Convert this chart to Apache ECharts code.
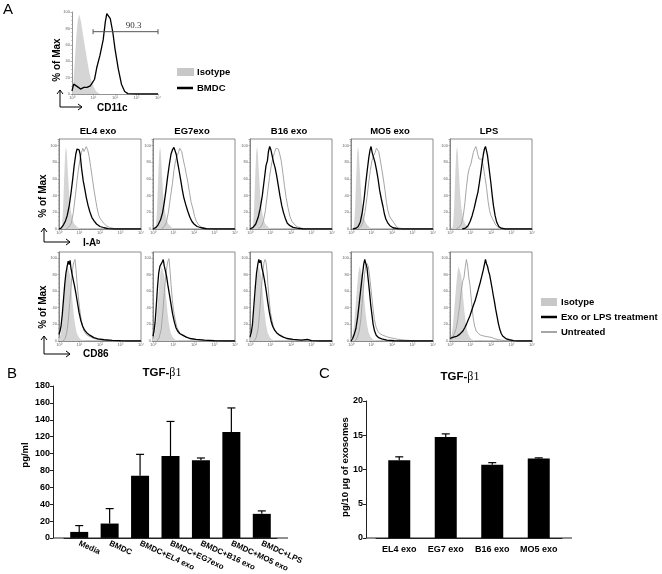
<!DOCTYPE html>
<html><head><meta charset="utf-8">
<script src="https://cdn.jsdelivr.net/npm/echarts@6/dist/echarts.min.js"></script>
<style>html,body{margin:0;padding:0;background:#fff}#c{width:662px;height:574px}</style>
</head><body><div id="c"></div><script>
// ---------- DATA (x in log10 decades, y in % of max) ----------
const cd11cIso = [[0,0],[0.05,8],[0.12,35],[0.2,70],[0.27,90],[0.34,97],[0.42,88],[0.5,74],[0.6,58],[0.7,42],[0.8,27],[0.9,16],[1.0,9],[1.1,4],[1.2,1.5],[1.3,0]];
const cd11cBmdc = [[0,4],[0.08,12],[0.15,13],[0.25,9],[0.4,6],[0.55,8],[0.7,8],[0.85,10],[0.95,14],[1.05,18],[1.15,32],[1.3,47],[1.45,66],[1.55,88],[1.62,98],[1.7,100],[1.78,92],[1.9,75],[2.0,55],[2.15,31],[2.3,12],[2.45,3],[2.6,0.5],[3,0],[4,0]];
const gateRange = [0.98, 4.0];
const gateLevel = 76;
const gateLabel = '90.3';

const iaIso = [[0.1,0],[0.15,5],[0.2,25],[0.25,60],[0.3,90],[0.34,99],[0.38,92],[0.44,65],[0.5,40],[0.56,25],[0.65,12],[0.75,6],[0.9,2],[1.05,0]];
const iaEL4 = [[0,0],[0.1,1],[0.22,5],[0.32,10],[0.4,16],[0.5,28],[0.58,42],[0.66,58],[0.74,76],[0.82,90],[0.88,96],[0.93,98],[0.98,95],[1.03,90],[1.1,73],[1.18,58],[1.25,49],[1.33,38],[1.42,28],[1.5,21],[1.6,14],[1.7,10],[1.83,6],[2.0,3],[2.2,1.5],[2.4,0.5],[2.7,0],[4,0]];
const iaUntrEL4 = [[0.35,0],[0.47,2],[0.6,7],[0.7,20],[0.8,40],[0.88,58],[0.95,72],[1.03,84],[1.1,92],[1.16,97],[1.22,93],[1.28,96],[1.33,99],[1.4,95],[1.47,87],[1.55,74],[1.62,62],[1.7,48],[1.78,36],[1.85,26],[1.93,17],[2.0,13],[2.08,10],[2.18,7],[2.3,4],[2.45,2],[2.7,0.5],[3,0],[4,0]];
const iaEG7 = [[0,0],[0.15,2],[0.25,5],[0.37,11],[0.47,20],[0.55,32],[0.63,46],[0.71,62],[0.8,78],[0.88,90],[0.95,95],[1.02,98],[1.08,99],[1.13,90],[1.2,80],[1.28,69],[1.35,59],[1.43,47],[1.5,38],[1.6,29],[1.7,21],[1.8,14],[1.9,9],[2.0,6],[2.15,3],[2.35,1.5],[2.6,0.3],[3,0],[4,0]];
const iaUntrEG7 = [[0.4,0],[0.55,3],[0.65,8],[0.75,20],[0.85,38],[0.95,55],[1.02,70],[1.1,82],[1.18,88],[1.25,92],[1.3,97],[1.35,99],[1.4,93],[1.47,84],[1.55,75],[1.63,65],[1.7,56],[1.78,44],[1.86,32],[1.95,24],[2.03,15],[2.12,9],[2.22,5],[2.35,2.5],[2.5,1],[2.8,0],[4,0]];
const iaB16 = [[0,0],[0.15,2],[0.28,6],[0.4,14],[0.5,25],[0.6,40],[0.7,60],[0.78,76],[0.85,82],[0.9,93],[0.96,99],[1.02,95],[1.08,88],[1.15,80],[1.22,74],[1.3,64],[1.38,52],[1.46,40],[1.55,28],[1.63,20],[1.72,13],[1.82,7],[1.95,4],[2.1,2],[2.3,1],[2.6,0],[4,0]];
const iaUntrB16 = [[0.4,0],[0.55,3],[0.65,9],[0.75,22],[0.85,42],[0.95,62],[1.05,78],[1.12,86],[1.2,92],[1.27,97],[1.33,99],[1.38,96],[1.45,90],[1.52,82],[1.6,68],[1.68,52],[1.76,38],[1.85,26],[1.95,15],[2.05,9],[2.15,6],[2.28,3],[2.45,1.5],[2.7,0],[4,0]];
const iaMO5 = [[0.1,0],[0.25,1],[0.35,3],[0.45,8],[0.55,20],[0.64,36],[0.72,55],[0.8,72],[0.87,86],[0.93,95],[0.98,99],[1.03,92],[1.1,86],[1.17,80],[1.25,70],[1.32,60],[1.4,46],[1.48,36],[1.56,27],[1.63,18],[1.7,12],[1.8,7],[1.9,4],[2.05,1.5],[2.3,0.3],[2.6,0],[4,0]];
const iaUntrMO5 = [[0.35,0],[0.48,3],[0.58,8],[0.68,20],[0.78,38],[0.86,55],[0.94,70],[1.02,82],[1.1,88],[1.18,92],[1.24,97],[1.29,99],[1.35,93],[1.42,84],[1.5,72],[1.58,60],[1.66,46],[1.73,32],[1.8,22],[1.87,16],[1.93,13],[2.0,11],[2.08,8],[2.18,4],[2.3,1.5],[2.5,0.5],[2.8,0],[4,0]];
const iaLPS = [[0.6,0],[0.75,1],[0.88,4],[0.98,9],[1.08,16],[1.18,25],[1.28,36],[1.36,44],[1.43,55],[1.5,67],[1.57,80],[1.63,90],[1.68,96],[1.73,99],[1.78,94],[1.83,88],[1.88,78],[1.94,66],[2.0,54],[2.06,40],[2.12,28],[2.2,16],[2.28,8],[2.38,3],[2.5,1],[2.7,0],[4,0]];
const iaUntrLPS = [[0.3,0],[0.45,2],[0.55,6],[0.65,16],[0.73,32],[0.8,50],[0.88,66],[0.95,74],[1.02,78],[1.08,85],[1.14,92],[1.2,96],[1.26,99],[1.31,95],[1.36,89],[1.42,84],[1.48,86],[1.55,84],[1.62,76],[1.7,63],[1.78,50],[1.86,33],[1.93,22],[2.0,16],[2.06,13],[2.12,10],[2.2,6],[2.3,3],[2.45,1],[2.7,0],[4,0]];

const cdIso = [[0,2],[0.08,8],[0.15,20],[0.22,42],[0.3,66],[0.36,82],[0.42,90],[0.48,88],[0.55,78],[0.62,58],[0.7,36],[0.78,20],[0.86,10],[0.95,5],[1.05,2],[1.2,0.5],[1.35,0]];
const cdEL4 = [[0,8],[0.05,12],[0.1,18],[0.16,32],[0.22,50],[0.28,68],[0.34,82],[0.4,90],[0.45,96],[0.5,92],[0.54,97],[0.58,88],[0.64,80],[0.7,73],[0.76,66],[0.82,58],[0.9,46],[0.98,34],[1.06,25],[1.15,18],[1.25,13],[1.35,10],[1.5,7],[1.7,4],[1.9,2.5],[2.2,1.5],[2.6,0.8],[3.0,0.3],[3.4,0],[4,0]];
const cdUntrEL4 = [[0.2,0],[0.3,3],[0.38,10],[0.45,24],[0.52,45],[0.58,62],[0.63,78],[0.68,90],[0.73,95],[0.78,98],[0.83,86],[0.88,70],[0.94,54],[1.0,40],[1.07,28],[1.14,18],[1.22,12],[1.32,8],[1.45,6],[1.6,4],[1.8,2.5],[2.1,1.5],[2.5,0.5],[3,0],[4,0]];
const cdEG7 = [[0,6],[0.05,12],[0.1,22],[0.16,42],[0.22,65],[0.28,82],[0.34,90],[0.4,92],[0.45,95],[0.5,98],[0.55,90],[0.6,85],[0.66,78],[0.72,68],[0.8,56],[0.88,44],[0.96,32],[1.04,23],[1.12,16],[1.2,12],[1.3,9],[1.45,7],[1.6,5],[1.8,3],[2.1,2],[2.5,1],[3,0.3],[3.5,0],[4,0]];
const cdUntrEG7 = [[0.2,0],[0.3,4],[0.4,14],[0.48,35],[0.55,58],[0.62,78],[0.68,90],[0.73,96],[0.78,99],[0.83,85],[0.88,68],[0.94,50],[1.0,37],[1.08,26],[1.16,17],[1.25,12],[1.35,8],[1.5,6],[1.7,4],[2.0,2],[2.4,1],[3,0],[4,0]];
const cdB16 = [[0,5],[0.06,10],[0.12,20],[0.18,40],[0.25,62],[0.32,82],[0.38,92],[0.43,98],[0.48,94],[0.53,97],[0.58,88],[0.64,82],[0.7,74],[0.78,62],[0.86,48],[0.94,35],[1.02,25],[1.1,18],[1.2,13],[1.3,10],[1.45,7],[1.6,5],[1.8,3],[2.1,2],[2.5,1],[2.8,2],[3.0,0.5],[3.4,0],[4,0]];
const cdUntrB16 = [[0.2,0],[0.3,4],[0.4,15],[0.48,38],[0.55,62],[0.62,82],[0.68,94],[0.73,98],[0.78,95],[0.83,84],[0.88,66],[0.94,48],[1.0,34],[1.08,24],[1.16,16],[1.25,11],[1.35,8],[1.5,6],[1.7,4],[2.0,2],[2.4,1],[3,0],[4,0]];
const cdMO5 = [[0,0],[0.08,3],[0.16,8],[0.24,15],[0.32,28],[0.4,45],[0.48,63],[0.56,80],[0.62,92],[0.67,98],[0.72,96],[0.78,88],[0.84,74],[0.9,60],[0.96,44],[1.02,32],[1.08,20],[1.15,12],[1.23,7],[1.35,4],[1.5,2.5],[1.75,1],[2.1,0.3],[2.5,0],[4,0]];
const cdUntrMO5 = [[0.2,0],[0.3,4],[0.4,12],[0.48,26],[0.54,45],[0.6,62],[0.66,80],[0.72,90],[0.78,93],[0.84,90],[0.9,80],[0.96,66],[1.02,52],[1.08,38],[1.14,26],[1.22,17],[1.3,12],[1.4,9],[1.55,7],[1.75,5],[2.0,3.5],[2.3,2],[2.65,1],[3.0,0.5],[3.3,0],[4,0]];
const cdLPS = [[0,3],[0.1,4],[0.22,5],[0.35,6],[0.47,8],[0.56,10],[0.63,12],[0.72,16],[0.8,20],[0.88,25],[0.97,30],[1.05,36],[1.13,42],[1.22,48],[1.3,55],[1.38,62],[1.47,70],[1.55,78],[1.63,86],[1.68,92],[1.73,98],[1.78,93],[1.83,90],[1.88,84],[1.93,80],[1.99,72],[2.05,64],[2.11,55],[2.17,47],[2.23,38],[2.3,29],[2.36,21],[2.43,14],[2.5,9],[2.57,6],[2.65,4],[2.75,2.5],[2.9,1.5],[3.1,0.5],[3.3,0],[4,0]];
const cdUntrLPS = [[0,1],[0.1,3],[0.2,8],[0.3,15],[0.38,26],[0.47,42],[0.55,60],[0.62,72],[0.68,76],[0.74,88],[0.8,98],[0.86,90],[0.92,76],[0.97,68],[1.02,55],[1.08,40],[1.13,28],[1.2,18],[1.28,12],[1.38,9],[1.5,7],[1.65,6],[1.85,5],[2.0,4.5],[2.15,3],[2.3,2],[2.5,1],[2.7,0.3],[3,0],[4,0]];

const panelTitles = ['EL4 exo', 'EG7exo', 'B16 exo', 'MO5 exo', 'LPS'];
const histTicks = ['10\u2070', '10\u00b9', '10\u00b2', '10\u00b3', '10\u2074'];

const bCategories = ['Media', 'BMDC', 'BMDC+EL4 exo', 'BMDC+EG7exo', 'BMDC+B16 exo', 'BMDC+MO5 exo', 'BMDC+LPS'];
const bValues = [7.1, 17, 73.5, 97, 92, 125.5, 28.5];
const bErrTop = [14.6, 34.7, 99, 138, 94.7, 154, 32];

const cCategories = ['EL4 exo', 'EG7 exo', 'B16 exo', 'MO5 exo'];
const cValues = [11.35, 14.75, 10.7, 11.6];
const cErrTop = [11.85, 15.2, 11.0, 11.7];

// ---------- BUILD ----------
const FONT = '"Liberation Sans", Arial, sans-serif';
const grids = [], xAxes = [], yAxes = [], series = [];

function addHist(left, top, w, h, frame, yMax, iso, untr, treated) {
  const gi = grids.length;
  grids.push({left, top, width: w, height: h, show: frame, borderColor: '#8c8c8c', borderWidth: 1});
  xAxes.push({
    type: 'value', gridIndex: gi, min: 0, max: 4, interval: 1,
    axisLine: {show: true, lineStyle: {color: '#777', width: 0.8}},
    axisTick: {show: true, length: 1.5, lineStyle: {color: '#777', width: 0.6}},
    minorTick: {show: true, splitNumber: 5, length: 1, lineStyle: {color: '#999', width: 0.5}},
    splitLine: {show: false},
    axisLabel: {fontSize: 4, color: '#666', margin: 2, fontFamily: FONT,
      formatter: v => histTicks[Math.round(v)] || ''}
  });
  yAxes.push({
    type: 'value', gridIndex: gi, min: 0, max: yMax, interval: 20,
    axisLine: {show: true, lineStyle: {color: '#777', width: 0.8}},
    axisTick: {show: true, length: 1.5, lineStyle: {color: '#777', width: 0.6}},
    minorTick: {show: true, splitNumber: 4, length: 1, lineStyle: {color: '#999', width: 0.5}},
    splitLine: {show: false},
    axisLabel: {fontSize: 4, color: '#666', margin: 2, fontFamily: FONT,
      formatter: v => (v > 100 ? '' : String(v))}
  });
  series.push({type: 'line', xAxisIndex: gi, yAxisIndex: gi, data: iso, symbol: 'none',
    lineStyle: {width: 0}, areaStyle: {color: '#d5d5d5', opacity: 1}, z: 1, silent: true});
  if (untr) series.push({type: 'line', xAxisIndex: gi, yAxisIndex: gi, data: untr, symbol: 'none',
    lineStyle: {color: '#a6a6a6', width: 1}, z: 2, silent: true});
  series.push({type: 'line', xAxisIndex: gi, yAxisIndex: gi, data: treated, symbol: 'none',
    lineStyle: {color: '#000', width: 1.3}, z: 3, silent: true});
  return gi;
}

// Panel A top (CD11c)
const g0 = addHist(72, 12, 86, 82, false, 100, cd11cIso, null, cd11cBmdc);
series.push({
  type: 'custom', xAxisIndex: g0, yAxisIndex: g0, z: 4, silent: true,
  data: [[gateRange[0], gateRange[1], gateLevel]],
  encode: {x: [0, 1], y: 2},
  renderItem: (p, api) => {
    const a = api.coord([api.value(0), api.value(2)]);
    const b = api.coord([api.value(1), api.value(2)]);
    const st = {stroke: '#555', lineWidth: 1};
    return {type: 'group', children: [
      {type: 'line', shape: {x1: a[0], y1: a[1], x2: b[0], y2: b[1]}, style: st},
      {type: 'line', shape: {x1: a[0], y1: a[1] - 2.5, x2: a[0], y2: a[1] + 2.5}, style: st},
      {type: 'line', shape: {x1: b[0], y1: b[1] - 2.5, x2: b[0], y2: b[1] + 2.5}, style: st},
      {type: 'text', x: (a[0] + b[0]) / 2 + 8, y: a[1] - 2,
        style: {text: gateLabel, font: '9px "Liberation Serif", serif', fill: '#333', textAlign: 'center', textVerticalAlign: 'bottom'}}
    ]};
  }
});

const panelLefts = [59, 153, 250, 351, 450];
const panelW = 82;
const iaTreatedList = [iaEL4, iaEG7, iaB16, iaMO5, iaLPS];
const iaUntrList = [iaUntrEL4, iaUntrEG7, iaUntrB16, iaUntrMO5, iaUntrLPS];
const cdTreatedList = [cdEL4, cdEG7, cdB16, cdMO5, cdLPS];
const cdUntrList = [cdUntrEL4, cdUntrEG7, cdUntrB16, cdUntrMO5, cdUntrLPS];
panelLefts.forEach((l, i) => addHist(l, 139, panelW, 90, true, 108, iaIso, iaUntrList[i], iaTreatedList[i]));
panelLefts.forEach((l, i) => addHist(l, 252, panelW, 89, true, 107, cdIso, cdUntrList[i], cdTreatedList[i]));

// Bar panels
function addBar(left, top, w, h, yOff, cats, vals, errs, yMax, yInt, barW, capHalf, rotate, lblSize, lblMargin) {
  const gi = grids.length;
  grids.push({left, top, width: w, height: h});
  xAxes.push({
    type: 'category', gridIndex: gi, data: cats,
    axisLine: {show: true, lineStyle: {color: '#222', width: 1}},
    axisTick: {show: false},
    axisLabel: {interval: 0, rotate, fontSize: lblSize, fontWeight: 'bold', color: '#000', fontFamily: FONT, margin: lblMargin}
  });
  yAxes.push({
    type: 'value', gridIndex: gi, min: 0, max: yMax, interval: yInt, offset: yOff,
    axisLine: {show: true, lineStyle: {color: '#222', width: 1}},
    axisTick: {show: true, length: 3, lineStyle: {color: '#222'}},
    splitLine: {show: false},
    axisLabel: {fontSize: 9, fontWeight: 'bold', color: '#000', fontFamily: FONT, margin: 3}
  });
  series.push({type: 'bar', xAxisIndex: gi, yAxisIndex: gi, data: vals, barWidth: barW,
    itemStyle: {color: '#000'}, silent: true});
  series.push({
    type: 'custom', xAxisIndex: gi, yAxisIndex: gi, silent: true, z: 5,
    data: vals.map((v, i) => [i, v, errs[i]]),
    encode: {x: 0, y: [1, 2]},
    renderItem: (p, api) => {
      const b = api.coord([api.value(0), api.value(1)]);
      const t = api.coord([api.value(0), api.value(2)]);
      const st = {stroke: '#000', lineWidth: 1.2};
      return {type: 'group', children: [
        {type: 'line', shape: {x1: b[0], y1: b[1], x2: t[0], y2: t[1]}, style: st},
        {type: 'line', shape: {x1: t[0] - capHalf, y1: t[1], x2: t[0] + capHalf, y2: t[1]}, style: st}
      ]};
    }
  });
  return gi;
}
const bL = 64, bW = 213, bOff = 11;
addBar(bL, 386, bW, 152, bOff, bCategories, bValues, bErrTop, 180, 20, 18, 4, -25, 8, 5);
const cL = 376, cW = 186, cOff = 10;
addBar(cL, 401, cW, 137, cOff, cCategories, cValues, cErrTop, 20, 5, 22, 4, 0, 9, 7);

// ---------- ANNOTATIONS ----------
function txt(x, y, text, size, opts) {
  return Object.assign({type: 'text', x, y, silent: true,
    style: {text, font: (opts && opts.normal ? '' : 'bold ') + size + 'px ' + FONT, fill: '#000',
      textAlign: (opts && opts.align) || 'left', textVerticalAlign: 'middle'}}, opts && opts.rot ? {rotation: Math.PI / 2} : {});
}
function arrow(cx, cy, upTip, rightTip) {
  const st = {stroke: '#000', lineWidth: 1, fill: null};
  return [
    {type: 'polyline', silent: true, shape: {points: [[cx, upTip], [cx, cy], [rightTip, cy]]}, style: st},
    {type: 'polyline', silent: true, shape: {points: [[cx - 3, upTip + 4], [cx, upTip], [cx + 3, upTip + 4]]}, style: st},
    {type: 'polyline', silent: true, shape: {points: [[rightTip - 4, cy - 3], [rightTip, cy], [rightTip - 4, cy + 3]]}, style: st}
  ];
}
const graphics = [
  txt(3, 10, 'A', 15, {normal: true}),
  txt(7, 374, 'B', 15, {normal: true}),
  txt(319, 374, 'C', 15, {normal: true}),
  txt(57, 60, '% of Max', 10, {rot: true, align: 'center'}),
  txt(43, 196, '% of Max', 10, {rot: true, align: 'center'}),
  txt(43, 307, '% of Max', 10, {rot: true, align: 'center'}),
  txt(97, 108, 'CD11c', 10),
  txt(83, 243, 'I-A\u1d47', 10),
  txt(83, 354, 'CD86', 10),
  ...arrow(60, 107, 90, 82),
  ...arrow(44, 242, 228, 70),
  ...arrow(44, 354, 336, 70),
  // legend 1
  {type: 'rect', silent: true, shape: {x: 177, y: 68, width: 17, height: 8}, style: {fill: '#c8c8c8'}},
  txt(197, 72, 'Isotype', 9.5),
  {type: 'line', silent: true, shape: {x1: 177, y1: 88, x2: 193, y2: 88}, style: {stroke: '#000', lineWidth: 2.5}},
  txt(197, 88, 'BMDC', 9.5),
  // legend 2
  {type: 'rect', silent: true, shape: {x: 541, y: 298, width: 16, height: 8}, style: {fill: '#c8c8c8'}},
  txt(561, 302, 'Isotype', 9.5),
  {type: 'line', silent: true, shape: {x1: 541, y1: 317, x2: 557, y2: 317}, style: {stroke: '#000', lineWidth: 2.5}},
  txt(561, 317, 'Exo or LPS treatment', 9.5),
  {type: 'line', silent: true, shape: {x1: 541, y1: 332, x2: 557, y2: 332}, style: {stroke: '#a6a6a6', lineWidth: 2}},
  txt(561, 332, 'Untreated', 9.5),
  // bar y-axis names
  txt(25, 455, 'pg/ml', 9.5, {rot: true, align: 'center'}),
  txt(345, 467, 'pg/10 \u03bcg of exosomes', 9.5, {rot: true, align: 'center'}),
  // x-axis line extensions of bar panels
  {type: 'line', silent: true, shape: {x1: bL - bOff, y1: 538, x2: bL + bW + bOff, y2: 538}, style: {stroke: '#222', lineWidth: 1}},
  {type: 'line', silent: true, shape: {x1: cL - cOff, y1: 538, x2: cL + cW + cOff, y2: 538}, style: {stroke: '#222', lineWidth: 1}}
];
panelTitles.forEach((t, i) => graphics.push(txt(panelLefts[i] + panelW / 2 - 2, 131, t, 9.5, {align: 'center'})));
function tgf(cx, cy) {
  return {type: 'text', x: cx, y: cy, silent: true, style: {
    text: '{a|TGF-}{b|\u03b21}', textAlign: 'center', textVerticalAlign: 'middle',
    rich: {a: {font: 'bold 11.5px ' + FONT, fill: '#000'}, b: {font: '12px "Liberation Serif", serif', fill: '#000'}}}};
}
graphics.push(tgf(162, 373), tgf(460, 377));

const chart = echarts.init(document.getElementById('c'), null, {renderer: 'canvas'});
chart.setOption({
  animation: false,
  backgroundColor: '#fff',
  grid: grids, xAxis: xAxes, yAxis: yAxes, series,
  graphic: graphics
});
</script></body></html>
